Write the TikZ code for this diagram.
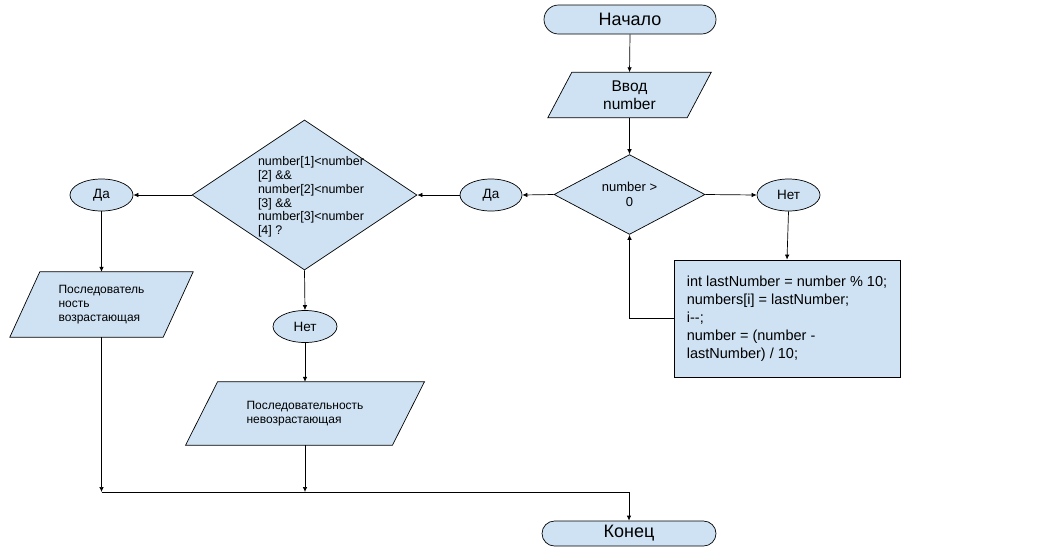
\documentclass[tikz,border=0pt]{standalone}
\usepackage{fontspec}
\setmainfont{Liberation Sans}
\usetikzlibrary{shapes.geometric,shapes.misc,arrows.meta,backgrounds}
\definecolor{boxblue}{HTML}{CFE2F3}
\begin{document}
\begin{tikzpicture}[x=1pt,y=-1pt,
  base/.style={draw=black, line width=0.7pt, fill=boxblue, inner sep=0pt},
  term/.style={base, rounded rectangle, minimum width=172pt, minimum height=29pt, font=\fontsize{18}{20}\selectfont},
  oval/.style={base, ellipse, minimum width=62pt, minimum height=32pt, font=\fontsize{13.5}{15}\selectfont},
  dec/.style={base, diamond},
  procbox/.style={base, rectangle, minimum width=226pt, minimum height=117pt, align=left, font=\fontsize{14.5}{18}\selectfont},
  pbox/.style={inner sep=0pt, align=left},
  arr/.style={draw=black, line width=0.7pt, -{Latex[length=5pt,width=4.5pt]}},
  ln/.style={draw=black, line width=0.7pt}
]
\useasboundingbox (0,0) rectangle (1048,550);

\node[term] (start) at (630,19.5) {Начало};
\node[pbox, minimum width=139pt, minimum height=45pt, align=center, font=\fontsize{15.5}{18}\selectfont] (in) at (629.5,95) {Ввод\\number};
\node[dec, minimum width=151pt, minimum height=77pt, align=center, font=\fontsize{13}{15}\selectfont] (d1) at (629.5,194.5) {number >\\0};
\node[oval] (da1) at (491,195) {Да};
\node[oval, minimum width=63pt] (net1) at (788.5,195) {Нет};
\node[procbox] (proc) at (787,318.5) {int lastNumber = number \% 10;\\numbers[i] = lastNumber;\\i-{}-;\\number = (number -\\lastNumber) / 10;};
\node[dec, minimum width=225pt, minimum height=150pt] (d2) at (304.5,195) {};
\node[pbox, font=\fontsize{12.5}{13.8}\selectfont] (d2t) at (311,197) {number[1]<number\\{[2]} \&\&\\number[2]<number\\{[3]} \&\&\\number[3]<number\\{[4]} ?};
\node[oval, minimum width=63pt] (da2) at (101.5,195) {Да};
\node[oval, minimum width=64pt] (net2) at (305,326.5) {Нет};
\node[pbox, minimum width=153pt, minimum height=65pt, font=\fontsize{12}{14}\selectfont] (p1) at (101.5,304.5) {Последователь\\ность\\возрастающая};
\node[pbox, minimum width=206.5pt, minimum height=63pt, font=\fontsize{12}{14}\selectfont] (p2) at (305,413.5) {Последовательность\\невозрастающая};
\node[term, minimum width=174pt, minimum height=25pt] (end) at (629,533.5) {Конец};

\coordinate (j1) at (101.5,492);
\coordinate (j2) at (305,492);
\coordinate (j3) at (629,492);

\begin{scope}[on background layer]
\draw[base] ([xshift=12pt]in.north west) -- ([xshift=12pt]in.north east) -- ([xshift=-12pt]in.south east) -- ([xshift=-12pt]in.south west) -- cycle;
\draw[base] ([xshift=15pt]p1.north west) -- ([xshift=15pt]p1.north east) -- ([xshift=-15pt]p1.south east) -- ([xshift=-15pt]p1.south west) -- cycle;
\draw[base] ([xshift=16pt]p2.north west) -- ([xshift=16pt]p2.north east) -- ([xshift=-16pt]p2.south east) -- ([xshift=-16pt]p2.south west) -- cycle;
\end{scope}

\draw[arr] (start.south) -- (in.north);
\draw[arr] (in.south) -- (d1.north);
\draw[arr] (d1.west) -- (da1.east);
\draw[arr] (da1.west) -- (d2.east);
\draw[arr] (d2.west) -- (da2.east);
\draw[arr] (da2.south) -- (p1.north);
\draw[arr] (p1.south) -- (j1);
\draw[arr] (d2.south) -- (net2.north);
\draw[arr] (net2.south) -- (p2.north);
\draw[arr] (p2.south) -- (j2);
\draw[arr] (j1) -- (j3) -- (end.north);
\draw[arr] (d1.east) -- (net1.west);
\draw[arr] (net1.south) -- (proc.north);
\draw[arr] (proc.west) -| (d1.south);
\end{tikzpicture}
\end{document}
